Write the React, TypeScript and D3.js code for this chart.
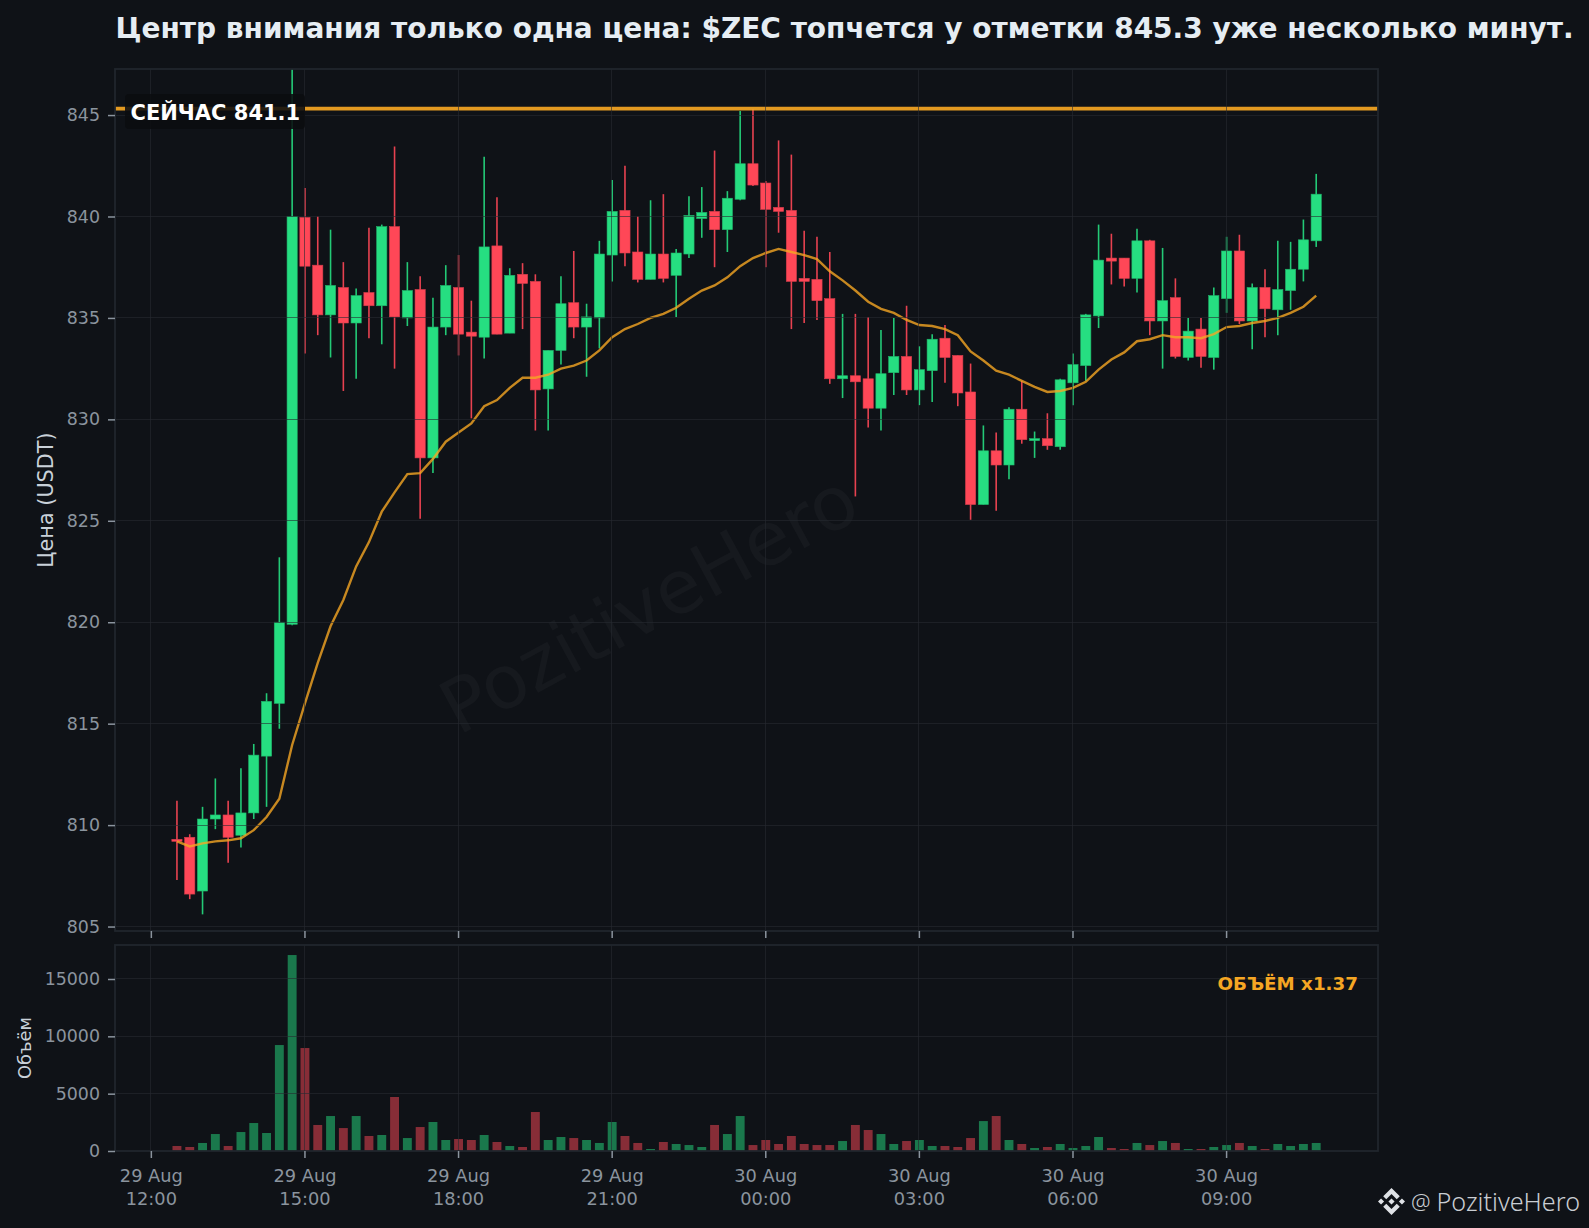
import React, { useEffect, useRef } from "react";
import * as d3 from "d3";

const opens = [
  809.3, 809.4, 806.75, 810.3, 810.5, 809.5, 810.6, 813.4, 816.0, 819.9,
  839.95, 837.6, 835.15, 836.5, 834.75, 836.25, 835.6, 839.5, 835.0, 836.4,
  828.1, 834.55, 836.5, 834.3, 834.05, 838.55, 834.25, 837.15, 836.8, 831.5,
  833.4, 835.75, 834.55, 835.0, 838.1, 840.3, 838.25, 836.9, 838.15, 837.1,
  838.15, 839.9, 840.25, 839.35, 840.85, 842.6, 841.65, 840.45, 840.3, 836.95,
  836.9, 835.95, 832.0, 832.15, 832.0, 830.55, 832.3, 833.1, 831.45, 832.4,
  834.0, 833.15, 831.35, 825.8, 828.45, 827.75, 830.5, 829.0, 829.05, 828.65,
  831.8, 832.65, 835.1, 837.95, 837.95, 836.95, 838.8, 834.85, 836.0, 833.05,
  834.45, 833.05, 835.95, 838.3, 834.85, 836.5, 835.4, 836.35, 837.4, 838.8,
];
const closes = [
  809.2, 806.6, 810.3, 810.5, 809.4, 810.6, 813.45, 816.1, 820.0, 840.0,
  837.55, 835.15, 836.6, 834.75, 836.1, 835.6, 839.5, 835.05, 836.35, 828.1,
  834.55, 836.6, 834.2, 834.1, 838.5, 834.2, 837.1, 836.7, 831.45, 833.4,
  835.7, 834.55, 835.05, 838.15, 840.25, 838.2, 836.9, 838.15, 836.95, 838.2,
  840.05, 840.2, 839.35, 840.9, 842.6, 841.55, 840.35, 840.25, 836.8, 836.8,
  835.85, 832.0, 832.15, 831.85, 830.55, 832.25, 833.1, 831.45, 832.45, 833.95,
  833.05, 831.3, 825.8, 828.45, 827.75, 830.5, 829.0, 829.05, 828.7, 831.95,
  832.7, 835.15, 837.85, 837.8, 836.95, 838.8, 834.85, 835.85, 833.1, 834.35,
  833.1, 836.1, 838.3, 834.85, 836.5, 835.45, 836.4, 837.4, 838.85, 841.1,
];
const highs = [
  811.2, 809.55, 810.9, 812.3, 811.2, 812.8, 814.0, 816.5, 823.2, 847.5,
  841.4, 840.0, 839.35, 837.75, 836.45, 839.45, 839.6, 843.45, 837.75, 837.05,
  836.0, 837.6, 838.1, 835.85, 842.95, 840.95, 837.45, 837.7, 837.15, 833.4,
  837.05, 838.3, 835.7, 838.8, 841.8, 842.5, 840.0, 840.8, 841.1, 838.4,
  841.0, 841.45, 843.25, 841.25, 845.2, 845.3, 841.75, 843.75, 843.05, 839.3,
  839.0, 838.25, 835.2, 835.2, 835.05, 834.4, 835.0, 835.6, 833.6, 834.2,
  834.65, 833.15, 832.75, 829.7, 829.35, 830.6, 831.9, 829.4, 830.3, 832.0,
  833.25, 835.2, 839.6, 839.15, 837.95, 839.4, 838.85, 838.45, 836.95, 835.0,
  835.0, 836.5, 839.0, 839.1, 836.7, 837.4, 838.8, 838.75, 839.85, 842.1,
];
const lows = [
  807.3, 806.35, 805.6, 809.8, 808.15, 808.9, 810.3, 810.9, 814.75, 819.85,
  833.25, 834.15, 833.05, 831.4, 832.0, 834.0, 833.7, 832.5, 834.6, 825.1,
  827.35, 834.15, 833.15, 830.05, 833.0, 834.2, 834.25, 834.45, 829.45, 829.45,
  832.7, 834.0, 832.1, 833.5, 836.8, 837.55, 836.75, 836.9, 836.75, 835.05,
  837.95, 838.95, 837.5, 838.25, 840.8, 841.5, 837.5, 839.2, 834.45, 834.75,
  834.9, 831.75, 831.05, 826.2, 829.6, 829.45, 831.2, 831.2, 830.7, 830.85,
  831.8, 830.65, 825.05, 825.8, 825.5, 827.05, 828.8, 828.1, 828.5, 828.5,
  830.7, 831.9, 834.5, 836.65, 836.55, 836.25, 834.15, 832.5, 833.0, 832.9,
  832.55, 832.45, 835.25, 834.7, 833.45, 834.05, 834.15, 835.4, 836.8, 838.5,
];
const volumes = [
  435, 350, 700, 1480, 435, 1655, 2440, 1570, 9240, 17090,
  8980, 2270, 3050, 2000, 3050, 1310, 1395, 4710, 1130, 2090,
  2530, 960, 1045, 960, 1395, 785, 435, 350, 3400, 960,
  1220, 1130, 960, 700, 2530, 1310, 700, 175, 785, 610,
  520, 350, 2270, 1480, 3050, 520, 960, 610, 1310, 610,
  520, 520, 870, 2270, 1830, 1480, 610, 870, 960, 435,
  435, 350, 1130, 2610, 3050, 960, 610, 260, 350, 610,
  260, 435, 1220, 260, 175, 700, 520, 870, 700, 175,
  175, 350, 520, 700, 435, 175, 610, 435, 610, 700,
];
const emaValues = [
  809.2, 808.95, 809.1, 809.2, 809.25, 809.35, 809.75, 810.4, 811.3, 813.95,
  816.0, 818.0, 819.8, 821.1, 822.75, 823.95, 825.45, 826.4, 827.3, 827.35,
  828.05, 828.9, 829.35, 829.8, 830.65, 830.95, 831.55, 832.05, 832.05, 832.2,
  832.5, 832.65, 832.9, 833.4, 834.05, 834.45, 834.7, 835.0, 835.2, 835.5,
  835.95, 836.35, 836.6, 837.0, 837.55, 837.95, 838.2, 838.4, 838.25, 838.1,
  837.9, 837.3, 836.85, 836.35, 835.8, 835.45, 835.25, 834.9, 834.65, 834.6,
  834.45, 834.15, 833.35, 832.9, 832.4, 832.2, 831.9, 831.6, 831.35, 831.4,
  831.55, 831.85, 832.45, 832.95, 833.3, 833.85, 833.95, 834.15, 834.05, 834.05,
  834.0, 834.2, 834.55, 834.6, 834.75, 834.85, 835.0, 835.25, 835.55, 836.1,
];

const priceTicks = [805, 810, 815, 820, 825, 830, 835, 840, 845];
const volumeTicks = [0, 5000, 10000, 15000];
const timeTicks = [
  new Date(2025, 7, 29, 12), new Date(2025, 7, 29, 15), new Date(2025, 7, 29, 18),
  new Date(2025, 7, 29, 21), new Date(2025, 7, 30, 0), new Date(2025, 7, 30, 3),
  new Date(2025, 7, 30, 6), new Date(2025, 7, 30, 9),
];
const firstCandle = new Date(2025, 7, 29, 12, 30);
const candleMinutes = 15;
const targetPrice = 845.3;

const title = "Центр внимания только одна цена: $ZEC топчется у отметки 845.3 уже несколько минут.";
const nowLabel = "СЕЙЧАС 841.1";
const volumeLabel = "ОБЪЁМ x1.37";
const watermark = "PozitiveHero";

const W = 1589;
const H = 1228;
const bg = "#0f1217";
const green = "#26de81";
const red = "#ff4757";
const orange = "#f5a623";
const tickColor = "#8b949e";
const font = "DejaVu Sans";

// Binance mark, 126.61 box
const logoPath = "M38.73 53.2l24.59-24.58 24.6 24.6 14.3-14.31L63.32 0 24.42 38.9zM0 63.31l14.3-14.31 14.31 14.31-14.31 14.3zM38.73 73.41l24.59 24.59 24.6-24.6 14.31 14.29-38.9 38.91-38.91-38.88zM98 63.31l14.3-14.31 14.31 14.3-14.31 14.31zM77.83 63.3L63.32 48.78 52.59 59.51l-1.24 1.23-2.54 2.54 14.51 14.5 14.51-14.47z";

export default function App() {
  const svgRef = useRef<SVGSVGElement>(null);

  useEffect(() => {
    const svg = d3.select(svgRef.current);
    svg.selectAll("*").remove();

    const left = 115, right = 1378;
    const x = d3.scaleTime()
      .domain([new Date(2025, 7, 29, 11, 18), new Date(2025, 7, 30, 11, 58)])
      .range([left, right]);
    const y = d3.scaleLinear().domain([804.78, 847.27]).range([931, 69]);
    const yVol = d3.scaleLinear().domain([0, 17965]).range([1151, 945]);

    const candles = opens.map((o, i) => ({
      t: d3.timeMinute.offset(firstCandle, i * candleMinutes),
      o, c: closes[i], h: highs[i], l: lows[i], v: volumes[i],
      ema: emaValues[i],
    }));
    const bodyW = 10.2;
    const barW = 8.9;
    const nudge = 0.5; // marks sit half a pixel right of the ticks

    svg.append("defs").append("clipPath").attr("id", "priceClip")
      .append("rect").attr("x", left).attr("y", 69).attr("width", right - left).attr("height", 931 - 69);

    // watermark goes under everything
    svg.append("text")
      .attr("transform", "translate(661,626) rotate(-28.5)")
      .attr("text-anchor", "middle")
      .attr("font-family", font)
      .attr("font-size", 74)
      .attr("fill", "#ffffff")
      .attr("fill-opacity", 0.03)
      .text(watermark);

    const price = svg.append("g").attr("clip-path", "url(#priceClip)");
    price.selectAll("line.wick").data(candles).join("line")
      .attr("class", "wick")
      .attr("x1", (d) => x(d.t) + nudge).attr("x2", (d) => x(d.t) + nudge)
      .attr("y1", (d) => y(d.h)).attr("y2", (d) => y(d.l))
      .attr("stroke", (d) => (d.c >= d.o ? green : red))
      .attr("stroke-opacity", 0.9)
      .attr("stroke-width", 1.6);
    price.selectAll("rect.body").data(candles).join("rect")
      .attr("class", "body")
      .attr("x", (d) => x(d.t) + nudge - bodyW / 2)
      .attr("width", bodyW)
      .attr("y", (d) => y(Math.max(d.o, d.c)))
      .attr("height", (d) => Math.max(2, Math.abs(y(d.o) - y(d.c))))
      .attr("fill", (d) => (d.c >= d.o ? green : red))
      .attr("stroke", (d) => (d.c >= d.o ? "#20b56b" : "#d63e4c"))
      .attr("stroke-width", 0.6);

    const emaLine = d3.line<any>().x((d) => x(d.t) + nudge).y((d) => y(d.ema));
    price.append("path")
      .attr("d", emaLine(candles))
      .attr("fill", "none")
      .attr("stroke", orange)
      .attr("stroke-opacity", 0.8)
      .attr("stroke-width", 2.4);

    price.append("line")
      .attr("x1", left).attr("x2", right)
      .attr("y1", y(targetPrice) - 0.3).attr("y2", y(targetPrice) - 0.3)
      .attr("stroke", orange)
      .attr("stroke-opacity", 0.92)
      .attr("stroke-width", 3.8);

    svg.selectAll("rect.vol").data(candles).join("rect")
      .attr("class", "vol")
      .attr("x", (d) => x(d.t) + nudge - barW / 2)
      .attr("width", barW)
      .attr("y", (d) => yVol(d.v))
      .attr("height", (d) => yVol(0) - yVol(d.v))
      .attr("fill", (d) => (d.c >= d.o ? green : red))
      .attr("fill-opacity", 0.5);

    // grid sits above the marks, faint lines show through the bodies
    const grid = svg.append("g")
      .attr("stroke", "#262a30").attr("stroke-opacity", 0.6).attr("stroke-width", 1)
      .attr("shape-rendering", "crispEdges");
    priceTicks.forEach((t) => grid.append("line").attr("x1", left).attr("x2", right).attr("y1", y(t)).attr("y2", y(t)));
    volumeTicks.slice(1).forEach((t) => grid.append("line").attr("x1", left).attr("x2", right).attr("y1", yVol(t)).attr("y2", yVol(t)));
    timeTicks.forEach((t) => {
      grid.append("line").attr("x1", x(t)).attr("x2", x(t)).attr("y1", 69).attr("y2", 931);
      grid.append("line").attr("x1", x(t)).attr("x2", x(t)).attr("y1", 945).attr("y2", 1151);
    });

    // spines
    [[69, 931], [945, 1151]].forEach(([a, b]) => {
      svg.append("rect").attr("x", left).attr("y", a).attr("width", right - left).attr("height", b - a)
        .attr("fill", "none").attr("stroke", "#21262d").attr("stroke-width", 1.8);
    });

    const styleAxis = (g: any) => {
      g.select(".domain").remove();
      g.selectAll(".tick line").attr("stroke", tickColor).attr("stroke-width", 1.5);
      g.selectAll(".tick text").attr("fill", tickColor).attr("font-family", font).attr("font-size", 17.4);
    };

    svg.append("g").attr("transform", `translate(${left},0)`)
      .call(d3.axisLeft(y).tickValues(priceTicks).tickSize(7).tickPadding(8).tickFormat(d3.format("d")) as any)
      .call(styleAxis);
    svg.append("g").attr("transform", `translate(${left},0)`)
      .call(d3.axisLeft(yVol).tickValues(volumeTicks).tickSize(7).tickPadding(8).tickFormat(d3.format("d")) as any)
      .call(styleAxis);
    svg.append("g").attr("transform", "translate(0,931)")
      .call(d3.axisBottom(x).tickValues(timeTicks).tickSize(7).tickFormat(() => "") as any)
      .call(styleAxis);

    const fmtDay = d3.timeFormat("%d %b");
    const fmtHour = d3.timeFormat("%H:%M");
    const timeAxis = svg.append("g").attr("transform", "translate(0,1151)")
      .call(d3.axisBottom(x).tickValues(timeTicks).tickSize(7).tickFormat(() => "") as any)
      .call(styleAxis);
    const labels = timeAxis.selectAll(".tick text").attr("font-size", 17.8);
    labels.selectAll("tspan").remove();
    labels.append("tspan").attr("x", 0).attr("y", 31).attr("dy", 0).text((d: any) => fmtDay(d));
    labels.append("tspan").attr("x", 0).attr("y", 54).attr("dy", 0).text((d: any) => fmtHour(d));

    svg.append("text").attr("x", 115.5).attr("y", 38)
      .attr("font-family", font).attr("font-weight", "bold").attr("font-size", 28)
      .attr("fill", "#e6edf3").text(title);

    svg.append("text")
      .attr("transform", "translate(46.5,500) rotate(-90)")
      .attr("text-anchor", "middle").attr("dominant-baseline", "middle")
      .attr("font-family", font).attr("font-size", 20.8).attr("fill", "#c9d1d9")
      .text("Цена (USDT)");
    svg.append("text")
      .attr("transform", "translate(26,1048) rotate(-90)")
      .attr("text-anchor", "middle").attr("dominant-baseline", "middle")
      .attr("font-family", font).attr("font-size", 17.8).attr("fill", "#c9d1d9")
      .text("Объём");

    svg.append("rect").attr("x", 125).attr("y", 94).attr("width", 180).attr("height", 35).attr("rx", 4)
      .attr("fill", "#0b0d10").attr("fill-opacity", 0.88);
    svg.append("text").attr("x", 130.5).attr("y", 119.5)
      .attr("font-family", font).attr("font-weight", "bold").attr("font-size", 21)
      .attr("fill", "#ffffff").text(nowLabel);

    svg.append("text").attr("x", 1358).attr("y", 989.5).attr("text-anchor", "end")
      .attr("font-family", font).attr("font-weight", "bold").attr("font-size", 18.3)
      .attr("fill", orange).text(volumeLabel);

    // logo bottom right
    const logoSize = 27;
    svg.append("path").attr("d", logoPath)
      .attr("transform", `translate(1378,1188) scale(${logoSize / 126.61})`)
      .attr("fill", "#dfe2e6");
    svg.append("text").attr("x", 1411).attr("y", 1210)
      .attr("font-family", "Noto Sans").attr("font-size", 22).attr("font-weight", 300)
      .attr("fill", "#c9cdd2").text("@");
    svg.append("text").attr("x", 1436.5).attr("y", 1211)
      .attr("font-family", "Noto Sans").attr("font-size", 25.2).attr("font-weight", 300)
      .attr("fill", "#c9cdd2").text("PozitiveHero");
  }, []);

  return (
    <svg
      ref={svgRef}
      width={W}
      height={H}
      style={{ position: "absolute", left: 0, top: 0, display: "block", background: bg }}
    />
  );
}
